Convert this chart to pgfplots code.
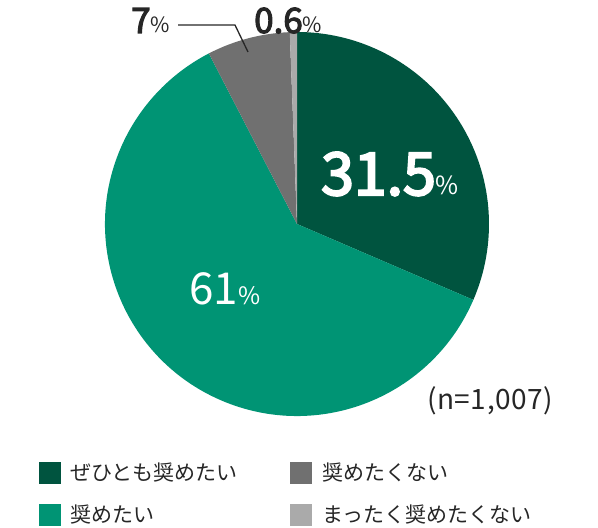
\documentclass[border=0pt]{standalone}
\usepackage{pgfplots}
\pgfplotsset{compat=1.18}
\usepackage{pgfplotstable}
\usepackage{fontspec}
\setmainfont{Noto Sans CJK JP}
\newfontfamily\spaced[LetterSpace=2]{Noto Sans CJK JP}

\definecolor{cA}{HTML}{00543F}
\definecolor{cB}{HTML}{009474}
\definecolor{cC}{HTML}{707070}
\definecolor{cD}{HTML}{AAAAAA}
\definecolor{txt}{HTML}{262626}

% share of answers, in %
\pgfplotstableread{
value color
31.5  cA
61    cB
7     cC
0.6   cD
}\piedata
\def\total{100.1}

\newcommand{\fs}[1]{\fontsize{#1}{#1}\selectfont}
% medium-looking digits: fill and stroke the glyphs
\newcommand{\heavy}[2]{\special{pdf:literal direct 2 Tr #1 w}#2\special{pdf:literal direct 0 Tr}}

\begin{document}
\begin{tikzpicture}
\begin{axis}[
  hide axis,
  x=1pt, y=1pt,
  disabledatascaling,
  scale only axis,
  xmin=0, xmax=598, ymin=0, ymax=528,
  clip=false,
]
\path (rel axis cs:0,0) rectangle (rel axis cs:1,1);

% slices, clockwise from the top
\pgfplotstablegetrowsof{\piedata}
\pgfmathtruncatemacro\nrows{\pgfplotsretval-1}
\gdef\angstart{90}
\pgfplotsforeachungrouped \i in {0,...,\nrows}{
  \pgfplotstablegetelem{\i}{value}\of\piedata \let\v\pgfplotsretval
  \pgfplotstablegetelem{\i}{color}\of\piedata \let\c\pgfplotsretval
  \pgfmathsetmacro\angend{\angstart-\v/\total*360}
  \edef\temp{\noexpand\fill[\c] (axis cs:297,304) -- ++(\angstart:192pt)
    arc[start angle=\angstart, end angle=\angend, radius=192pt] -- cycle;}
  \temp
  \xdef\angstart{\angend}
}

% slice labels
\node[anchor=base west, inner sep=0, white] at (axis cs:321,333)
  {\color{white}\fs{59}\heavy{2.2}{31.5}\fs{25}\%};
\node[anchor=base west, inner sep=0, white] at (axis cs:189,223)
  {\fs{44}61\fs{24}\%};
\node[anchor=base west, inner sep=0, txt] at (axis cs:131,495)
  {\color{txt}\fs{35}\heavy{1.1}{7}\fs{21}\%};
\node[anchor=base west, inner sep=0, txt] at (axis cs:254,495)
  {\color{txt}\fs{35}\heavy{1.1}{0.6}\fs{21}\%};
\draw[txt, line width=1.3pt] (axis cs:178,503) -- (axis cs:235,503) -- (axis cs:248,476);

\node[anchor=west, inner sep=0, txt] at (axis cs:427,127) {\spaced\fs{28}(n=1,007)};

% legend
\fill[cA] (axis cs:39,44) rectangle (axis cs:61,66);
\fill[cB] (axis cs:39,2) rectangle (axis cs:61,24);
\fill[cC] (axis cs:290,44) rectangle (axis cs:312,66);
\fill[cD] (axis cs:290,2) rectangle (axis cs:312,24);
\node[anchor=west, inner sep=0, txt] at (axis cs:70,55) {\fs{21}ぜひとも奨めたい};
\node[anchor=west, inner sep=0, txt] at (axis cs:70,13) {\fs{21}奨めたい};
\node[anchor=west, inner sep=0, txt] at (axis cs:322,55) {\fs{21}奨めたくない};
\node[anchor=west, inner sep=0, txt] at (axis cs:322,13) {\fs{21}まったく奨めたくない};
\end{axis}
\end{tikzpicture}
\end{document}
